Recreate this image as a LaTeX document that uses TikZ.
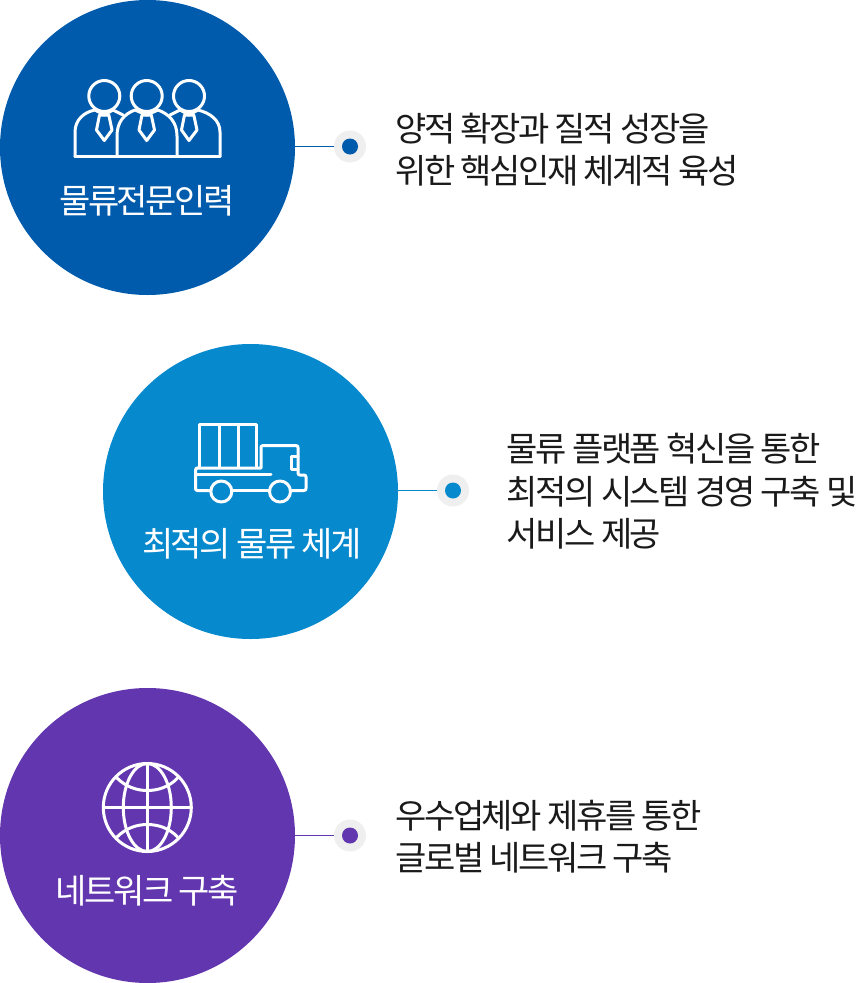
\documentclass[tikz,border=0pt]{standalone}
\usepackage{fontspec}
\setmainfont[LetterSpace=-7]{Noto Sans CJK KR}
\definecolor{cblue}{HTML}{005BAC}
\definecolor{clight}{HTML}{0789CE}
\definecolor{cpurple}{HTML}{6236AF}
\definecolor{halo}{HTML}{EFEFEF}
\definecolor{ink}{HTML}{1A1A1A}
\tikzset{
 bigdisc/.style={circle,fill=#1,minimum size=295pt,inner sep=0pt,outer sep=0pt},
 halodot/.style={circle,fill=halo,minimum size=32pt,inner sep=0pt,outer sep=0pt},
 coredot/.style={circle,fill=#1,minimum size=16pt,inner sep=0pt,outer sep=0pt},
 link/.style={draw=#1,line width=1pt},
 disclabel/.style={text=white,font=\fontsize{34pt}{36pt}\selectfont,inner sep=0pt},
 desc/.style={text=ink,anchor=west,align=left,inner sep=0pt,font=\fontsize{34pt}{42.6pt}\selectfont},
 icon/.style={draw=white,line width=3pt,line join=round,line cap=round}
}
\begin{document}
\begin{tikzpicture}[x=1pt,y=-1pt]
\useasboundingbox (0,0) rectangle (856,983);
% row 1
\node[bigdisc=cblue] (c1) at (147.5,147.5) {};
\node[halodot] (h1) at (350,146.5) {};
\node[coredot=cblue] (d1) at (350,146.5) {};
\draw[link=cblue] (c1.east |- h1) -- (h1.west);
\node[disclabel] (l1) at (147,201) {물류전문인력};
\node[desc] (t1) at (395,149.5) {양적 확장과 질적 성장을\\위한 핵심인재 체계적 육성};
% people icon
\begin{scope}[icon]
 \draw (104.3,96) circle (15.5);
 \draw (189,96) circle (15.5);
 \draw (146.7,96) circle (15.5);
 \draw (75,156.7) -- (220,156.7);
 \draw (75,156.7) -- (75,132) .. controls (75,120) and (84,112) .. (95,110) -- (104.3,115) -- (113,110) -- (123,115);
 \draw (170,115) -- (180,110) -- (189,115) -- (198,110) .. controls (210,113) and (220,120) .. (220,132) -- (220,156.7);
 \draw (117,156.7) -- (117,136) .. controls (117,122) and (124,114) .. (135,110) -- (146.7,115) -- (158,110) .. controls (169,114) and (177,122) .. (177,136) -- (177,156.7);
 \draw (99.5,115) -- (96.5,130) -- (104.3,140.5) -- (112,130) -- (108.8,115) -- cycle;
 \draw (142,115) -- (139,130) -- (146.7,140.5) -- (154.5,130) -- (151.3,115) -- cycle;
 \draw (184.5,115) -- (181.5,130) -- (189,140.5) -- (197,130) -- (193.8,115) -- cycle;
\end{scope}
% row 2
\node[bigdisc=clight] (c2) at (250.5,491.5) {};
\node[halodot] (h2) at (453,490.5) {};
\node[coredot=clight] (d2) at (453,490.5) {};
\draw[link=clight] (c2.east |- h2) -- (h2.west);
\node[disclabel] (l2) at (252,544) {최적의 물류 체계};
\node[desc] (t2) at (506.5,491.5) {물류 플랫폼 혁신을 통한\\최적의 시스템 경영 구축 및\\서비스 제공};
% truck icon
\begin{scope}[icon]
 \draw (199.5,467) -- (199.5,424.5) -- (256,424.5) -- (256,467);
 \draw (219.3,424.5) -- (219.3,467);
 \draw (238.3,424.5) -- (238.3,467);
 \draw (197,468) -- (261,468) -- (261,448) [rounded corners=2pt] -- (261,445.5) -- (298,445.5) -- (298,475) -- (306,475) -- (306,490.5) -- (291.5,490.5);
 \draw[rounded corners=2pt] (197,468) -- (195.5,468) -- (195.5,490.5) -- (210,490.5);
 \draw (232.5,490.5) -- (269,490.5);
 \draw (195.5,474.5) -- (271,474.5);
 \draw (298,456) -- (291.7,456) -- (291.7,469.5) -- (298,469.5);
 \draw (221.3,491.5) circle (10.5);
 \draw (280,491.5) circle (10.5);
\end{scope}
% row 3
\node[bigdisc=cpurple] (c3) at (147.5,835.5) {};
\node[halodot] (h3) at (350,835.5) {};
\node[coredot=cpurple] (d3) at (350,835.5) {};
\draw[link=cpurple] (c3.east |- h3) -- (h3.west);
\node[disclabel] (l3) at (147,891) {네트워크 구축};
\node[desc] (t3) at (395,836.5) {우수업체와 제휴를 통한\\글로벌 네트워크 구축};
% globe icon
\begin{scope}[icon]
 \draw (147.3,807.5) circle (44);
 \draw (147.3,807.5) ellipse (24 and 44);
 \draw (147.3,763.5) -- (147.3,851.5);
 \draw (103.3,807.5) -- (191.3,807.5);
 \draw (117,778) .. controls (126,787) and (137,790.5) .. (147.3,790.5) .. controls (158,790.5) and (169,787) .. (177.6,778);
 \draw (117,837) .. controls (126,828) and (137,824.5) .. (147.3,824.5) .. controls (158,824.5) and (169,828) .. (177.6,837);
\end{scope}
\end{tikzpicture}
\end{document}
